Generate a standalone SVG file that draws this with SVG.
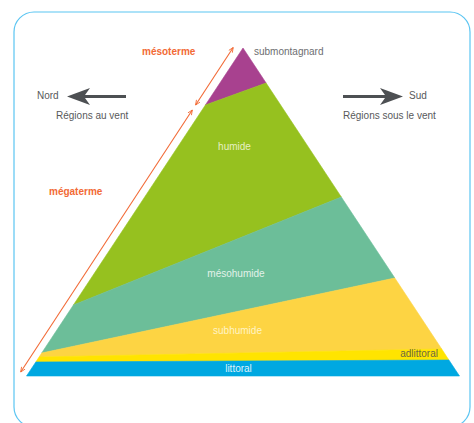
<svg xmlns="http://www.w3.org/2000/svg" width="474" height="423" viewBox="0 0 474 423">
<style>
text{font-family:"Liberation Sans",Arial,sans-serif;font-size:10px}
.lbl{fill:#58595b}
.org{fill:#f26a36;font-weight:bold}
.in{text-anchor:middle}
.band{stroke-width:0.6}
.oline{stroke:#f26a36;stroke-width:1.1;fill:none;marker-start:url(#ah);marker-end:url(#ah)}
.garrow{fill:#4d5053}
</style>
<defs>
<marker id="ah" viewBox="0 0 10 10" refX="9" refY="5" markerWidth="6" markerHeight="6" orient="auto-start-reverse" markerUnits="userSpaceOnUse">
<path d="M1,1.5 L9,5 L1,8.5" fill="none" stroke="#f26a36" stroke-width="1.4"/>
</marker>
</defs>
<rect x="14" y="12" width="456" height="415" rx="20" ry="20" fill="#fff" stroke="#5bc5f2" stroke-width="1.2"/>
<g id="pyramid">
<g id="submontagnard"><polygon class="band" points="243,48 266.1,83 205.4,105" fill="#a8418f" stroke="#a8418f"/><text x="254" y="55" class="lbl" style="fill:#6d6e71">submontagnard</text></g>
<g id="humide"><polygon class="band" points="205.4,105 266.1,83 341.3,197 73.4,305" fill="#96c11f" stroke="#96c11f"/><text x="234.5" y="150" class="in" fill="#e6f0c4">humide</text></g>
<g id="mesohumide"><polygon class="band" points="73.4,305 341.3,197 394.8,278 41.7,353" fill="#6cbe99" stroke="#6cbe99"/><text x="236" y="277" class="in" fill="#e2f2ea">mésohumide</text></g>
<g id="subhumide"><polygon class="band" points="41.7,353 394.8,278 441.7,349 39.1,357" fill="#fdd443" stroke="#fdd443"/><text x="237.5" y="334" class="in" fill="#fff3c6">subhumide</text></g>
<g id="adlittoral"><polygon class="band" points="39.1,357 441.7,349 448.9,360 35.8,362" fill="#ffe400" stroke="#ffe400"/><text x="438" y="357" text-anchor="end" fill="#6b6842">adlittoral</text></g>
<g id="littoral"><polygon class="band" points="35.8,362 448.9,360 459.5,376 26.5,376" fill="#00a8e1" stroke="#00a8e1"/><text x="238.5" y="372" class="in" fill="#dff2fb">littoral</text></g>
</g>
<g id="nord"><text x="37" y="99" class="lbl">Nord</text><text x="56" y="119" class="lbl">Régions au vent</text></g>
<g id="sud"><text x="409" y="99" class="lbl">Sud</text><text x="343" y="119" class="lbl">Régions sous le vent</text></g>
<g id="mesoterme"><text x="142" y="55" class="org">mésoterme</text></g>
<g id="megaterme"><text x="49" y="195" class="org">mégaterme</text></g>
<g id="connectors">
<path class="garrow" d="M67,96.5 L90,88 L85,95 L126,95 L126,98 L85,98 L90,105 Z"/>
<path class="garrow" d="M403,96.5 L380,88 L385,95 L343,95 L343,98 L385,98 L380,105 Z"/>
<line class="oline" x1="195.6" y1="105" x2="233.2" y2="47.5"/>
<line class="oline" x1="192.3" y1="110" x2="20.7" y2="372"/>
</g>
</svg>
